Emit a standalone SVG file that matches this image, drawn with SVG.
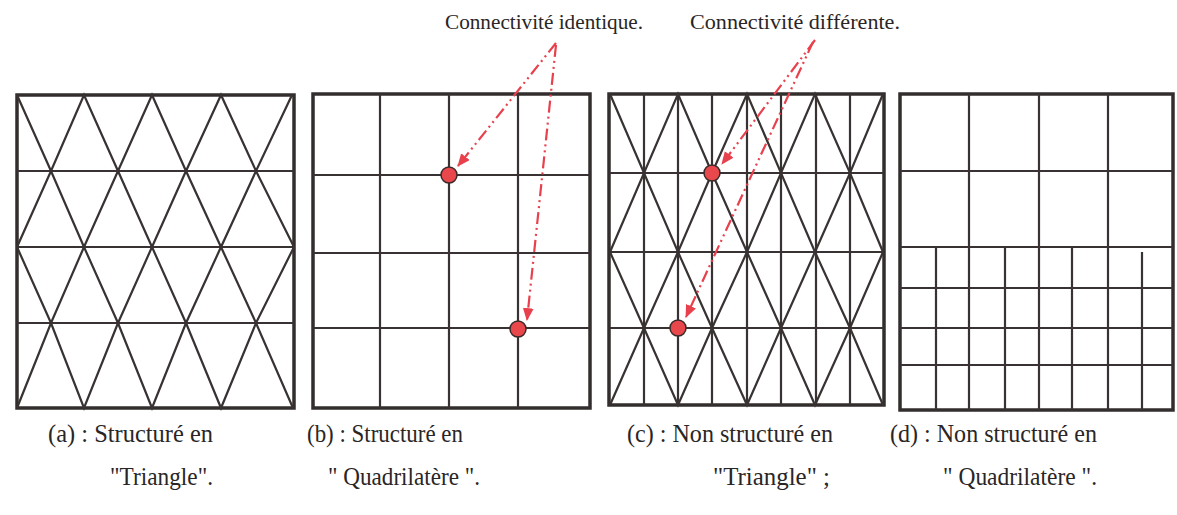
<svg xmlns="http://www.w3.org/2000/svg" width="1177" height="515" viewBox="0 0 1177 515">
  <style>
    .frame { fill: none; stroke: #332e2e; stroke-width: 3.5; }
    .mesh { fill: none; stroke: #383232; stroke-width: 2.2; stroke-linejoin: miter; }
    .dot { fill: #e8474c; stroke: #3a2a2a; stroke-width: 1.5; }
    .arrow { fill: none; stroke: #e8404c; stroke-width: 2.2; stroke-dasharray: 12 4 2 4 2 4; }
    .title { font-family: "Liberation Serif", "Times New Roman", serif; font-size: 22px; fill: #2a2626; }
    .cap { font-family: "Liberation Serif", "Times New Roman", serif; font-size: 26px; fill: #2a2626; }
  </style>
  <defs>
    <marker id="head" viewBox="0 0 12 10" refX="11" refY="5" markerWidth="13" markerHeight="11" markerUnits="userSpaceOnUse" orient="auto">
      <path d="M0,0 L12,5 L0,10 Z" fill="#e8404c"/>
    </marker>
  </defs>
  <rect width="1177" height="515" fill="#ffffff"/>

  <!-- (a) structured triangle mesh -->
  <g id="panel-a">
    <rect class="frame" x="17" y="95" width="277" height="313"/>
    <path class="mesh" d="M17,171 H294 M17,247 H294 M17,323 H294"/>
    <polyline class="mesh" points="17,95 51,171 84,95 118,171 152,95 186,171 221,95 256,171 292,95"/>
    <polyline class="mesh" points="17,247 51,171 84,247 118,171 152,247 186,171 221,247 256,171 294,247"/>
    <polyline class="mesh" points="17,247 51,323 84,247 118,323 152,247 186,323 221,247 256,323 294,247"/>
    <polyline class="mesh" points="17,408 51,323 84,408 118,323 152,408 186,323 221,408 256,323 293,408"/>
  </g>

  <!-- (b) structured quadrilateral mesh -->
  <g id="panel-b">
    <rect class="frame" x="313" y="94" width="277" height="314"/>
    <path class="mesh" d="M380,94 V408 M449,94 V408 M518,94 V408 M313,175 H590 M313,253 H590 M313,328 H590"/>
    <circle class="dot" cx="449" cy="175" r="8"/>
    <circle class="dot" cx="518" cy="329" r="8"/>
  </g>

  <!-- (c) unstructured triangle mesh -->
  <g id="panel-c">
    <rect class="frame" x="609" y="94" width="275" height="311"/>
    <path class="mesh" d="M644,94 V405 M678,94 V405 M712,94 V405 M747,94 V405 M781,94 V405 M816,94 V405 M850,94 V405 M609,173 H884 M609,252 H884 M609,328 H884"/>
    <polyline class="mesh" points="610,94 644,173 678,94 712,173 747,94 781,173 815,94 850,173 883,94"/>
    <polyline class="mesh" points="610,252 644,173 678,252 712,173 747,252 781,173 815,252 850,173 883,252"/>
    <polyline class="mesh" points="610,252 644,328 678,252 712,328 747,252 781,328 815,252 850,328 883,252"/>
    <polyline class="mesh" points="610,405 644,328 678,405 712,328 747,405 781,328 815,405 850,328 883,405"/>
    <circle class="dot" cx="712" cy="173" r="8"/>
    <circle class="dot" cx="678" cy="328" r="8"/>
  </g>

  <!-- (d) unstructured quadrilateral mesh -->
  <g id="panel-d">
    <rect class="frame" x="900" y="94" width="273" height="316"/>
    <path class="mesh" d="M969,94 V410 M1039,94 V410 M1108,94 V410 M900,171 H1173 M900,247 H1173"/>
    <path class="mesh" d="M936,247 V410 M1005,247 V410 M1072,247 V410 M1142,252 V410 M900,288 H1173 M900,328 H1173 M900,365 H1173"/>
  </g>

  <!-- connectors -->
  <g id="connectors">
    <line class="arrow" x1="556" y1="43" x2="458" y2="166" marker-end="url(#head)"/>
    <line class="arrow" x1="556" y1="45" x2="527" y2="320" marker-end="url(#head)"/>
    <line class="arrow" x1="815" y1="40" x2="722" y2="164" marker-end="url(#head)"/>
    <line class="arrow" x1="813" y1="42" x2="686" y2="317" marker-end="url(#head)"/>
  </g>

  <!-- labels -->
  <g id="labels">
    <text class="title" x="445" y="29" textLength="198" lengthAdjust="spacingAndGlyphs">Connectivité identique.</text>
    <text class="title" x="690" y="29" textLength="210" lengthAdjust="spacingAndGlyphs">Connectivité différente.</text>
    <text class="cap" x="48" y="442" textLength="165" lengthAdjust="spacingAndGlyphs">(a) : Structuré en</text>
    <text class="cap" x="110" y="485" textLength="103" lengthAdjust="spacingAndGlyphs">"Triangle".</text>
    <text class="cap" x="307" y="442" textLength="156" lengthAdjust="spacingAndGlyphs">(b) : Structuré en</text>
    <text class="cap" x="328" y="485" textLength="152" lengthAdjust="spacingAndGlyphs">" Quadrilatère ".</text>
    <text class="cap" x="627" y="442" textLength="206" lengthAdjust="spacingAndGlyphs">(c) : Non structuré en</text>
    <text class="cap" x="713" y="485" textLength="117" lengthAdjust="spacingAndGlyphs">"Triangle" ;</text>
    <text class="cap" x="890" y="442" textLength="207" lengthAdjust="spacingAndGlyphs">(d) : Non structuré en</text>
    <text class="cap" x="943" y="485" textLength="154" lengthAdjust="spacingAndGlyphs">" Quadrilatère ".</text>
  </g>
</svg>
